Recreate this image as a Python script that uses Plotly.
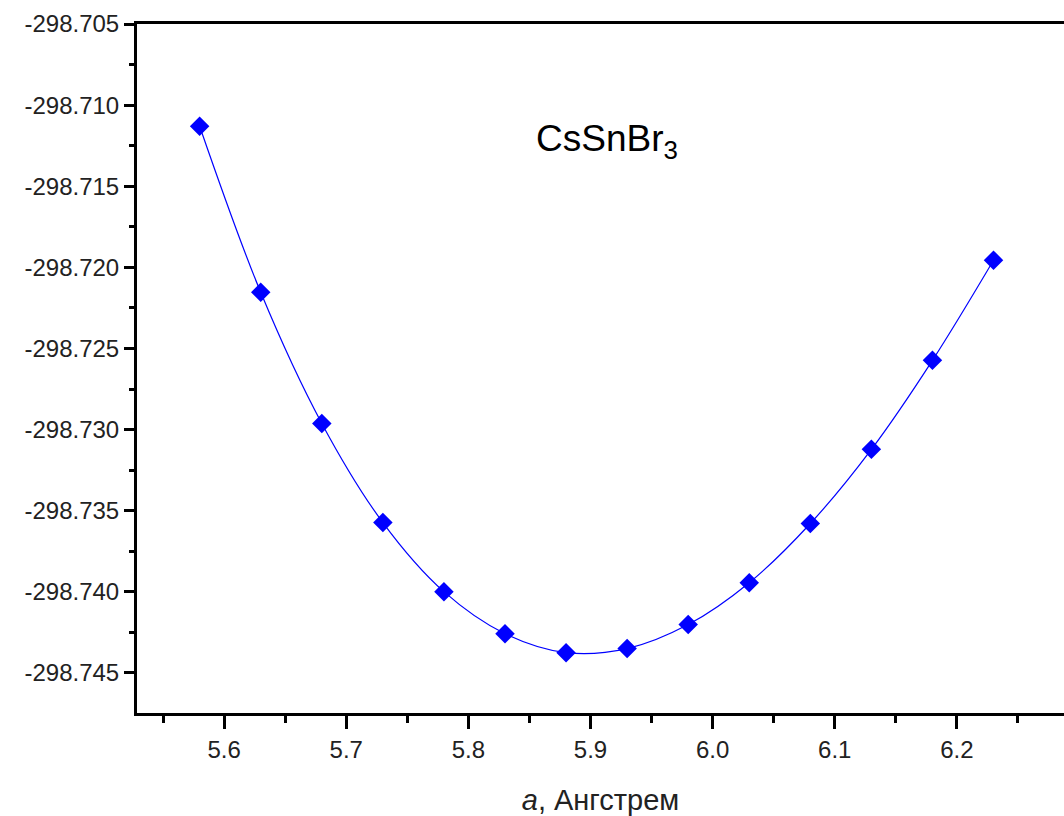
import plotly.graph_objects as go

# Lattice parameter a (Angstrom) and total energy
a_values = [5.58, 5.63, 5.68, 5.73, 5.78, 5.83, 5.88, 5.93, 5.98, 6.03, 6.08, 6.13, 6.18, 6.23]
energy = [-298.7113, -298.72154, -298.72962, -298.73573, -298.73999, -298.74258, -298.74375,
          -298.74350, -298.74202, -298.73944, -298.73579, -298.73122, -298.72573, -298.71956]

x_ticks = [5.6, 5.7, 5.8, 5.9, 6.0, 6.1, 6.2]
x_tick_labels = ["5.6", "5.7", "5.8", "5.9", "6.0", "6.1", "6.2"]
y_ticks = [-298.705, -298.710, -298.715, -298.720, -298.725, -298.730, -298.735, -298.740, -298.745]
y_tick_labels = ["-298.705", "-298.710", "-298.715", "-298.720", "-298.725", "-298.730",
                 "-298.735", "-298.740", "-298.745"]

FONT = "Liberation Sans, Arial, sans-serif"

fig = go.Figure()
fig.add_trace(go.Scatter(
    x=a_values, y=energy, mode="lines+markers",
    line=dict(color="#0000FF", width=1.2, shape="spline", smoothing=1.0),
    marker=dict(symbol="diamond", size=15, color="#0000FF", line=dict(width=0)),
    showlegend=False,
))

fig.add_annotation(
    text="CsSnBr<sub>3</sub>", xref="paper", yref="paper", x=0.507, y=0.866,
    showarrow=False, font=dict(family=FONT, size=37, color="#000000"),
)

fig.update_layout(
    width=1064, height=816,
    margin=dict(l=137, r=0, t=24, b=103),
    paper_bgcolor="white", plot_bgcolor="white",
    font=dict(family=FONT, color="#222222"),
)

fig.update_xaxes(
    range=[5.5287, 6.2877],
    tickvals=x_ticks, ticktext=x_tick_labels,
    tickfont=dict(size=24, family=FONT, color="#222222"),
    ticks="outside", ticklen=13, tickwidth=3, tickcolor="black",
    minor=dict(dtick=0.05, tick0=5.55, ticks="outside", ticklen=7, tickwidth=3, tickcolor="black", showgrid=False),
    showline=True, linewidth=3, linecolor="black", mirror=True,
    showgrid=False, zeroline=False,
    title=dict(text="<i>a</i>, Ангстрем", font=dict(size=29, family=FONT, color="#222222"), standoff=28),
)

fig.update_yaxes(
    range=[-298.74747, -298.705],
    tickvals=y_ticks, ticktext=y_tick_labels,
    tickfont=dict(size=24, family=FONT, color="#222222"),
    ticks="outside", ticklen=10, tickwidth=3, tickcolor="black",
    minor=dict(dtick=0.0025, tick0=-298.7475, ticks="outside", ticklen=5, tickwidth=3, tickcolor="black", showgrid=False),
    showline=True, linewidth=3, linecolor="black", mirror=False,
    showgrid=False, zeroline=False,
)

fig.write_html(
    "out.html",
    config={"displayModeBar": False},
    post_script="document.body.style.margin='0';document.body.style.overflow='hidden';",
)
